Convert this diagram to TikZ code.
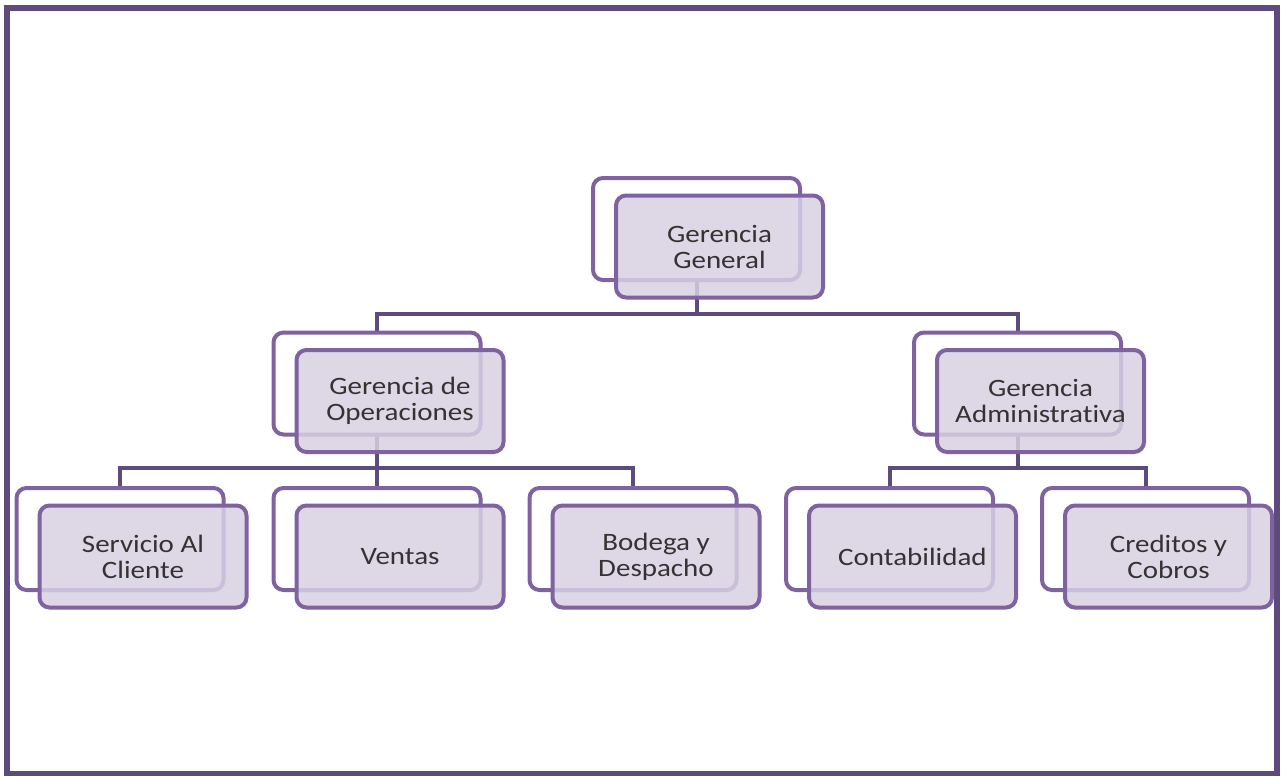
\documentclass[tikz,border=0pt]{standalone}
\usepackage{fontspec}
\setmainfont[FakeStretch=1.16,Ligatures=NoCommon]{Carlito}
\usetikzlibrary{positioning,backgrounds}
\definecolor{orgframe}{HTML}{5E4A7C}
\definecolor{orgline}{HTML}{7F63A1}
\definecolor{orgfill}{HTML}{D8D0E2}
\tikzset{
  backbox/.style={draw=orgline,line width=2pt,fill=white,rounded corners=5pt,
    minimum width=103.5pt,minimum height=51pt,inner sep=0pt,outer sep=0pt},
  frontbox/.style={backbox,fill=orgfill,fill opacity=0.85,text opacity=1,
    align=center,font=\fontsize{12.5}{13}\selectfont,text=black!80},
  conn/.style={draw=orgframe,line width=2pt}
}
\begin{document}
\begin{tikzpicture}[x=0.5pt,y=-0.5pt]
\useasboundingbox (0,0) rectangle (1282,776);
\draw[orgframe,line width=3pt] (7,7.5) rectangle (1276.5,773.5);
% back boxes
\node[backbox] (gg-b) at (696.5,229) {};
\node[backbox] (go-b) at (377,383.5) {};
\node[backbox] (ga-b) at (1017.5,383.5) {};
\foreach \N/\X in {sc/120,ve/377,bd/633,co/889.5,cr/1145.5}
  \node[backbox] (\N-b) at (\X,539) {};
% front boxes
\node[frontbox] (gg) at ([shift={(23,17.5)}]gg-b.center) {Gerencia\\General};
\node[frontbox] (go) at ([shift={(23,17.5)}]go-b.center) {Gerencia de\\Operaciones};
\node[frontbox] (ga) at ([shift={(23,17.5)}]ga-b.center) {Gerencia\\Administrativa};
\node[frontbox] (sc) at ([shift={(23,17.5)}]sc-b.center) {Servicio Al\\Cliente};
\node[frontbox] (ve) at ([shift={(23,17.5)}]ve-b.center) {Ventas};
\node[frontbox] (bd) at ([shift={(23,17.5)}]bd-b.center) {Bodega y\\Despacho};
\node[frontbox] (co) at ([shift={(23,17.5)}]co-b.center) {Contabilidad};
\node[frontbox] (cr) at ([shift={(23,17.5)}]cr-b.center) {Creditos y\\Cobros};
% connectors
\begin{scope}[on background layer]
  \foreach \C in {go,ga}
    \draw[conn] (gg-b.south) -- ++(0,34) -| (\C-b.north);
  \foreach \C in {sc,ve,bd}
    \draw[conn] (go-b.south) -- ++(0,33) -| (\C-b.north);
  \foreach \C in {co,cr}
    \draw[conn] (ga-b.south) -- ++(0,33) -| (\C-b.north);
\end{scope}
\end{tikzpicture}
\end{document}
